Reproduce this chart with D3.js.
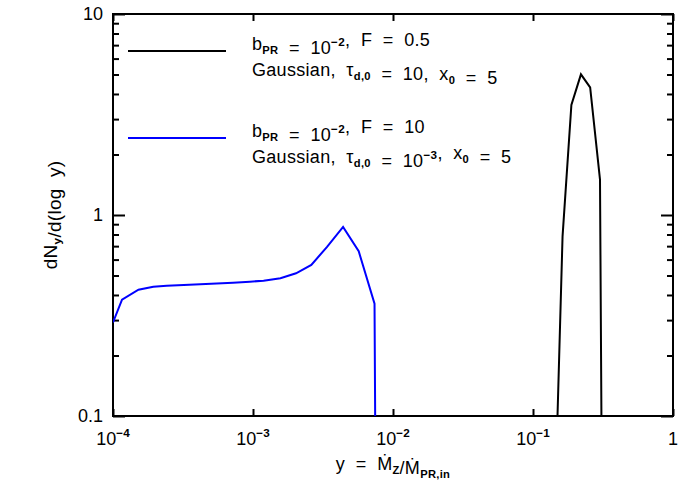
<!DOCTYPE html>
<html>
<head>
<meta charset="utf-8">
<script src="https://cdn.jsdelivr.net/npm/d3@7"></script>
<style>
  body { margin: 0; background: #fff; }
  text { font-family: "Liberation Sans", Arial, sans-serif; fill: #000; white-space: pre; }
</style>
</head>
<body>
<div id="chart"></div>
<script>
// values
var blueX = [1.0e-4, 1.16e-4, 1.52e-4, 1.94e-4, 2.42e-4, 3.2e-4, 4.2e-4, 5.5e-4, 7.2e-4, 9.5e-4,
             1.19e-3, 1.57e-3, 2.03e-3, 2.61e-3, 3.38e-3, 4.4e-3, 5.69e-3, 7.38e-3, 7.5e-3];
var blueY = [0.292, 0.379, 0.425, 0.440, 0.445, 0.448, 0.452, 0.456, 0.460, 0.466,
             0.471, 0.485, 0.513, 0.565, 0.694, 0.873, 0.660, 0.362, 0.05];
var blackX = [0.1455, 0.1626, 0.188, 0.220, 0.256, 0.301, 0.310];
var blackY = [0.05, 0.783, 3.53, 5.01, 4.31, 1.50, 0.05];
var xMajor = [1e-4, 1e-3, 1e-2, 1e-1, 1];
var xLabels = [["10", "−4"], ["10", "−3"], ["10", "−2"], ["10", "−1"], ["1", ""]];
var yMajor = [0.1, 1, 10];
var yLabels = ["0.1", "1", "10"];

var W = 700, H = 500;
var L = 113, R = 673, T = 14, B = 416;

var svg = d3.select("#chart").append("svg")
  .attr("width", W).attr("height", H);

var x = d3.scaleLog().domain([1e-4, 1]).range([L, R]);
var y = d3.scaleLog().domain([0.1, 10]).range([B, T]);

// minor ticks on y: 2..9 per decade
var yMinor = [];
[0.1, 1].forEach(function (d) {
  for (var k = 2; k <= 9; k++) yMinor.push(d * k);
});

// clip for curves
svg.append("clipPath").attr("id", "plotclip")
  .append("rect").attr("x", L).attr("y", T).attr("width", R - L).attr("height", B - T);

function richText(sel, parts, size) {
  parts.forEach(function (p) {
    var t = sel.append("tspan").text(p[0]);
    if (p[1] === "sub") {
      t.attr("dy", 4).attr("font-size", size * 0.62).attr("font-weight", "bold");
      sel.append("tspan").attr("dy", -4).text("");
    } else if (p[1] === "sup") {
      t.attr("dy", -8).attr("font-size", size * 0.65).attr("font-weight", "bold");
      sel.append("tspan").attr("dy", 8).text("");
    }
  });
}

// axes drawn with d3.axis, labels added by hand for superscripts
svg.append("g").attr("transform", "translate(0," + B + ")")
  .call(d3.axisTop(x).tickValues(xMajor).tickSize(7).tickFormat(""));
svg.append("g").attr("transform", "translate(0," + T + ")")
  .call(d3.axisBottom(x).tickValues(xMajor).tickSize(7).tickFormat(""));
svg.append("g").attr("transform", "translate(" + L + ",0)")
  .call(d3.axisRight(y).tickValues(yMajor).tickSize(12).tickFormat(""));
svg.append("g").attr("transform", "translate(" + L + ",0)")
  .call(d3.axisRight(y).tickValues(yMinor).tickSize(6).tickFormat(""));
svg.append("g").attr("transform", "translate(" + R + ",0)")
  .call(d3.axisLeft(y).tickValues(yMajor).tickSize(12).tickFormat(""));
svg.append("g").attr("transform", "translate(" + R + ",0)")
  .call(d3.axisLeft(y).tickValues(yMinor).tickSize(6).tickFormat(""));

svg.selectAll(".domain").remove();
svg.selectAll(".tick line").attr("stroke", "#000").attr("stroke-width", 2);

svg.append("rect").attr("x", L).attr("y", T)
  .attr("width", R - L).attr("height", B - T)
  .attr("fill", "none").attr("stroke", "#000").attr("stroke-width", 2);

// x tick labels
xMajor.forEach(function (d, i) {
  var t = svg.append("text").attr("x", x(d)).attr("y", B + 29)
    .attr("text-anchor", "middle").attr("font-size", 18);
  richText(t, [[xLabels[i][0], "n"], [xLabels[i][1], "sup"]], 18);
});

// y tick labels
yMajor.forEach(function (d, i) {
  svg.append("text").attr("x", L - 10).attr("y", y(d) + 6)
    .attr("text-anchor", "end").attr("font-size", 18).text(yLabels[i]);
});

// axis titles
var xt = svg.append("text").attr("x", (L + R) / 2).attr("y", B + 54)
  .attr("text-anchor", "middle").attr("font-size", 18).attr("letter-spacing", 0.3);
richText(xt, [["y  =  \u1E40", "n"], ["Z", "sub"], ["/\u1E40", "n"], ["PR,in", "sub"]], 18);

var yt = svg.append("text")
  .attr("transform", "translate(57," + (T + B) / 2 + ") rotate(-90)")
  .attr("text-anchor", "middle").attr("font-size", 19).attr("letter-spacing", 0.3);
richText(yt, [["dN", "n"], ["y", "sub"], ["/d(log  y)", "n"]], 19);

// curves
var line = d3.line().x(function (d) { return x(d[0]); }).y(function (d) { return y(d[1]); });
var curves = svg.append("g").attr("clip-path", "url(#plotclip)");
curves.append("path").datum(d3.zip(blueX, blueY))
  .attr("d", line).attr("fill", "none").attr("stroke", "#0000ff").attr("stroke-width", 2);
curves.append("path").datum(d3.zip(blackX, blackY))
  .attr("d", line).attr("fill", "none").attr("stroke", "#000").attr("stroke-width", 2);

// legend
var legend = [
  { color: "#000", ly: 51,
    l1: [["b", "n"], ["PR", "sub"], ["  =  10", "n"], ["−2", "sup"], [",  F  =  0.5", "n"]],
    l2: [["Gaussian,  \u03C4", "n"], ["d,0", "sub"], ["  =  10,  x", "n"], ["0", "sub"], ["  =  5", "n"]] },
  { color: "#0000ff", ly: 138,
    l1: [["b", "n"], ["PR", "sub"], ["  =  10", "n"], ["−2", "sup"], [",  F  =  10", "n"]],
    l2: [["Gaussian,  \u03C4", "n"], ["d,0", "sub"], ["  =  10", "n"], ["−3", "sup"], [",  x", "n"], ["0", "sub"], ["  =  5", "n"]] }
];
legend.forEach(function (g) {
  svg.append("line").attr("x1", 128).attr("x2", 226).attr("y1", g.ly).attr("y2", g.ly)
    .attr("stroke", g.color).attr("stroke-width", 2);
  var t1 = svg.append("text").attr("x", 252).attr("y", g.ly - 1)
    .attr("font-size", 18).attr("letter-spacing", 0.3);
  richText(t1, g.l1, 18);
  var t2 = svg.append("text").attr("x", 252).attr("y", g.ly + 25)
    .attr("font-size", 18).attr("letter-spacing", 0.3);
  richText(t2, g.l2, 18);
});
</script>
</body>
</html>
